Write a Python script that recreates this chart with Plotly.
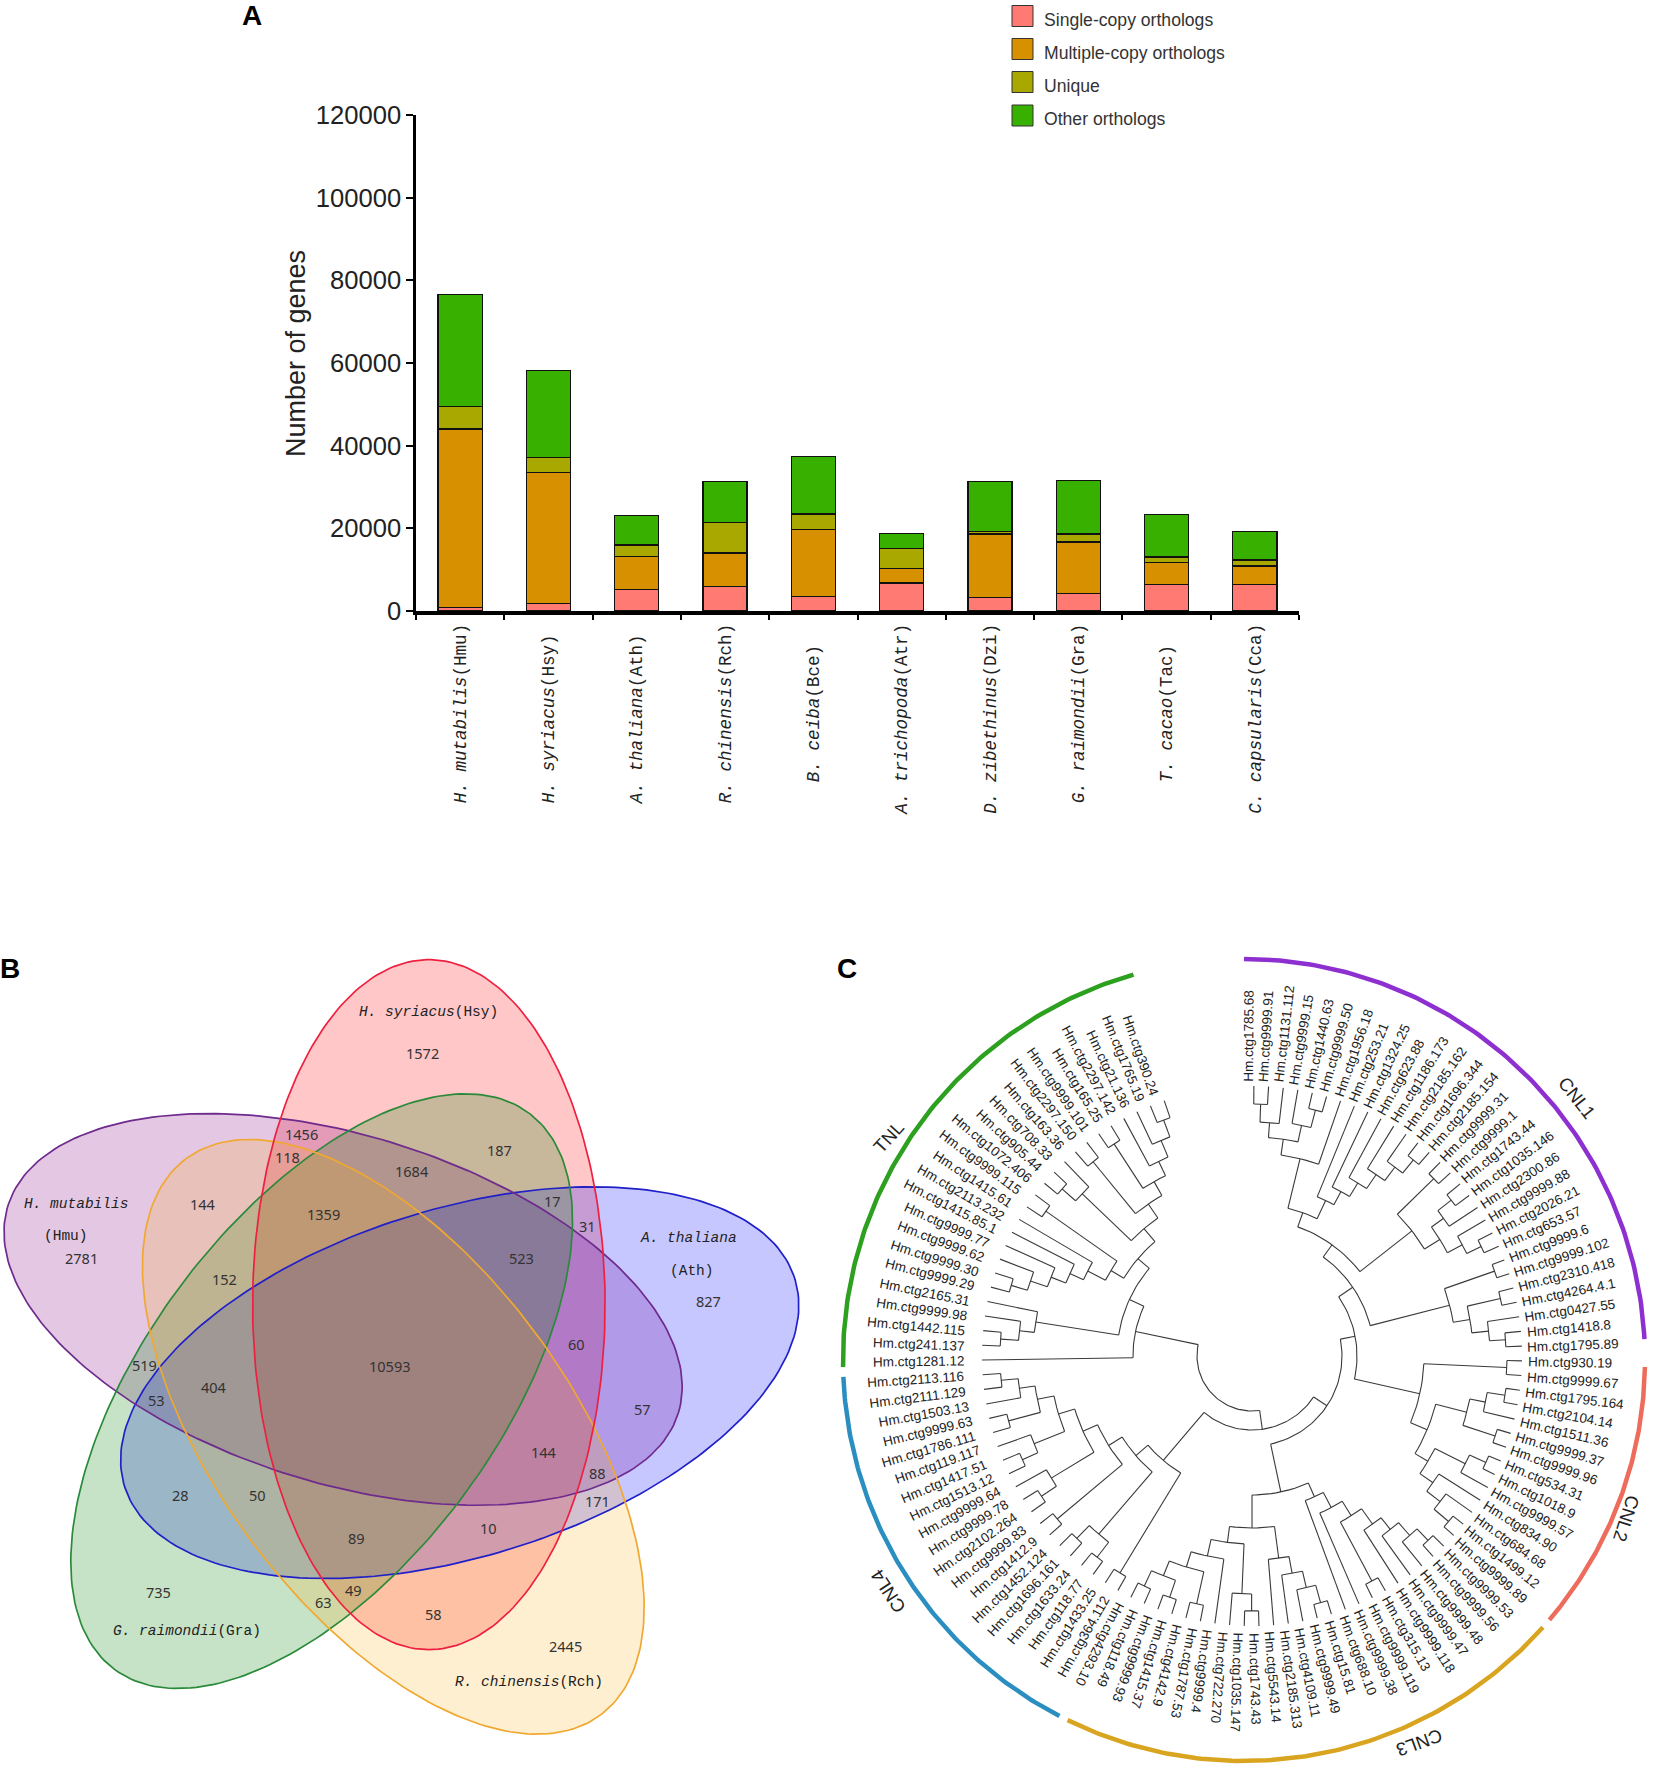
import math
import numpy as np
import plotly.graph_objects as go

# ---------- Panel A data ----------
species = ["H. mutabilis", "H. syriacus", "A. thaliana", "R. chinensis", "B. ceiba",
           "A. trichopoda", "D. zibethinus", "G. raimondii", "T. cacao", "C. capsularis"]
abbr = ["Hmu", "Hsy", "Ath", "Rch", "Bce", "Atr", "Dzi", "Gra", "Tac", "Cca"]
single_copy = [800, 1850, 5250, 5900, 3550, 6800, 3300, 4200, 6450, 6450]
multi_copy = [43200, 31650, 8000, 8150, 16250, 3450, 15350, 12500, 5250, 4450]
unique = [5400, 3650, 2750, 7350, 3700, 4850, 550, 1950, 1400, 1450]
other = [27100, 21000, 7100, 10000, 13900, 3700, 12200, 12850, 10300, 6850]
series_names = ["Single-copy orthologs", "Multiple-copy orthologs", "Unique", "Other orthologs"]
series_colors = ["#FF7A72", "#D69000", "#A8A800", "#38B000"]
y_ticks = [0, 20000, 40000, 60000, 80000, 100000, 120000]

# ---------- Panel B data ----------
venn_numbers = [1572, 1456, 118, 187, 1684, 144, 1359, 17, 31, 2781, 152, 523, 827, 60, 10593, 519,
                53, 404, 57, 144, 88, 171, 28, 50, 10, 89, 49, 63, 735, 58, 2445]
venn_number_pos = [(807, 212), (577, 365), (550, 409), (955, 396), (787, 436), (387, 497), (619, 517),
                   (1056, 491), (1123, 538), (155, 600), (429, 639), (997, 599), (1354, 680), (1102, 762),
                   (745, 802), (277, 801), (300, 866), (408, 842), (1228, 883), (1039, 964), (1143, 1005),
                   (1143, 1056), (345, 1045), (492, 1045), (934, 1107), (681, 1127), (675, 1224), (618, 1248),
                   (303, 1228), (829, 1270), (1082, 1330)]
venn_names = ["<i>H. syriacus</i>(Hsy)", "<i>H. mutabilis</i>", "(Hmu)", "<i>A. thaliana</i>", "(Ath)",
              "<i>G. raimondii</i>(Gra)", "<i>R. chinensis</i>(Rch)"]
venn_name_pos = [(820, 136), (146, 498), (127, 558), (1316, 562), (1324, 623), (358, 1302), (1012, 1398)]
# ellipse geometry: centre, semi-axes, tilt in degrees (crop coordinates of the panel)
# fill order: red, purple, blue, green, orange
ell_cx = [820, 656, 879, 615, 752]
ell_cy = [687, 696, 834, 850, 936]
ell_a = [650, 670, 670, 657, 657]
ell_b = [337, 328, 328, 335, 335]
ell_tilt = [90, 16.8, -16.8, -52.6, 52.6]
ell_line = ["#EE2040", "#6E2A8C", "#2020C8", "#2A8A3A", "#F0A830"]
ell_fill = ["rgba(255,0,0,0.22)", "rgba(128,0,128,0.22)", "rgba(0,0,255,0.22)",
            "rgba(0,128,0,0.22)", "rgba(255,165,0,0.18)"]
line_order = [2, 1, 3, 4, 0]

# ---------- Panel C data ----------
leaf_ids = ["1785.68", "9999.91", "1131.112", "9999.15", "1440.63", "9999.50", "1956.18", "253.21", "1324.25",
            "623.88", "1186.173", "2185.162", "1696.344", "2185.154", "9999.31", "9999.1", "1743.44", "1035.146",
            "2300.86", "9999.88", "2026.21", "653.57", "9999.6", "9999.102", "2310.418", "4264.4.1", "0427.55",
            "1418.8", "1795.89", "930.19", "9999.67", "1795.164", "2104.14", "1511.36", "9999.37", "9999.96",
            "534.31", "1018.9", "9999.57", "834.90", "684.68", "1499.12", "9999.89", "9999.53", "9999.56",
            "9999.48", "9999.47", "9999.118", "315.13", "9999.119", "9999.38", "688.10", "15.81", "9999.49",
            "4109.11", "2185.313", "5543.14", "1743.43", "1035.147", "722.270", "9999.4", "1787.53", "4142.9",
            "1415.37", "9999.93", "118.49", "4293.10", "364.112", "1433.25", "118.77", "1633.24", "1696.161",
            "1452.124", "1412.9", "9999.83", "2102.264", "9999.78", "9999.64", "1513.12", "1417.51", "119.117",
            "1786.111", "9999.63", "1503.13", "2111.129", "2113.116", "1281.12", "241.137", "1442.115", "9999.98",
            "2165.31", "9999.29", "9999.30", "9999.62", "9999.77", "1415.85.1", "2113.232", "1415.61", "9999.115",
            "1072.406", "905.44", "708.33", "163.36", "2297.150", "9999.101", "165.25", "2297.142", "21.136",
            "1765.19", "390.24"]
# nested tree: [node radius, child, child ...]; an int child is a leaf index
CNL1_a = [219, [234, [252, 0, 1], 2], [236, 3, [254, 4, 5]]]
CNL1_b = [152, [203, CNL1_a, 6],
          [172, 7, [187, 8, [203, 9, [220, 10, [237, 11, [254, 12, 13]]]]]]]
CNL1_c = [203, [254, 14, 15],
          [221, [236, [253, 16, 17], 18], [238, 19, [254, 20, 21]]]]
CNL1_d = [204, [257, 22, 23], [221, [255, 24, 25], [238, 26, [254, 27, 28]]]]
CNL2 = [172, [255, 29, 30],
        [190, [222, [238, [256, 31, 32], 33], [256, 34, 35]],
         [205, [239, [257, 36, 37], 38],
          [221, 39, [238, 40, [257, 41, 42]]]]]]
CNL3 = [139,
        [154, [171, [188, [207, [222, [239, [255, 43, 44], 45], 46], 47], [255, 48, 49]], 50], 51],
        [172,
         [204, [221, [238, [256, 52, 53], 54], 55], 56],
         [188, [238, [255, 57, 58], 59],
          [205, 60, [221, [254, 61, 62], [237, [255, 63, 64], [254, 65, 66]]]]]]]
CNL4 = [137, [254, 67, 68],
        [153, [235, [254, 69, 70], [253, 71, 72]],
         [169, [254, 73, 74],
          [185, [235, [253, 75, 76], 77],
           [202, [235, [252, 78, 79], 80],
            [219, [252, 81, 82], [235, 83, [252, 84, 85]]]]]]]]
TNL = [119, 86,
       [135,
        [219, [234, [252, 87, 88], 89], 90],
        [150,
         [165, [185, [200, [216, [234, [251, 91, 92], 93], 94], 95], 96], [252, 97, 98]],
         [167, [235, [253, 99, 100], 101],
          [184, [251, 102, 103],
           [200, [253, 104, 105],
            [216, 106, [234, 107, [252, 108, 109]]]]]]]]]
TREE = [55,
        [74,
         [90,
          [105, [122, [137, CNL1_b, CNL1_c], CNL1_d], CNL2],
          CNL3],
         CNL4],
        TNL]
clade_names = ["CNL1", "CNL2", "CNL3", "CNL4", "TNL"]
clade_start = [0, 91, 131.8, 207.4, 269]
clade_end = [87, 130.4, 206.1, 267.6, 344]
clade_colors = ["#8E2FD0", "#EE6C5C", "#D9A520", "#2A8FC0", "#2EA020"]
clade_label_pos = [(1577, 1097), (1627, 1518), (1420, 1743), (888, 1592), (888, 1137)]
clade_label_angle = [52, 108, 160, 237, -48]

# ---------- layout constants ----------
W, H = 1655, 1772
X0, X1, Y0, Y1 = 416, 1299, 611, 115
fig = go.Figure()
annots = []
shapes = []


def note(text, x, y, size, family="Liberation Sans", color="#222222", angle=0, xanchor="center", bold=False):
    annots.append(dict(text=f"<b>{text}</b>" if bold else text, x=x, y=y, xref="x2", yref="y2", showarrow=False,
                       xanchor=xanchor, yanchor="middle", textangle=angle,
                       font=dict(size=size, family=family, color=color), borderpad=0, borderwidth=0))


# ---------- Panel A ----------
NBSP = "\u00a0"
plain = [f"{s}({a})" for s, a in zip(species, abbr)]
longest = max(len(p) for p in plain)
categories = [f"<i>{s}</i>({a})" + NBSP * ((longest - len(p)) // 2) for s, a, p in zip(species, abbr, plain)]
for name, vals, col in zip(series_names, [single_copy, multi_copy, unique, other], series_colors):
    fig.add_trace(go.Bar(x=categories, y=vals, name=name, marker=dict(color=col, line=dict(color="#111", width=1.3)),
                         width=0.5, showlegend=False, xaxis="x", yaxis="y"))

swatch_y = [16, 49, 82, 115.5]
text_y = [20, 53, 86, 119]
for name, col, sy, ty in zip(series_names, series_colors, swatch_y, text_y):
    shapes.append(dict(type="rect", xref="x2", yref="y2", x0=1012, x1=1033, y0=sy - 10.5, y1=sy + 10.5,
                       fillcolor=col, line=dict(color="#333", width=1)))
    note(name, 1044, ty, 17.6, color="#333333", xanchor="left")

note("Number of genes", 296, 354, 27, angle=-90)
note("A", 252, 15, 28, bold=True, color="#000000")
note("B", 10, 968, 28, bold=True, color="#000000")
note("C", 847, 968, 28, bold=True, color="#000000")

# ---------- Panel B ----------
SX, SY, OY = 1.912, 1.884, 940
outlines = []
for cx, cy, a, b, tilt, fc in zip(ell_cx, ell_cy, ell_a, ell_b, ell_tilt, ell_fill):
    t = np.linspace(0, 2 * np.pi, 240)
    phi = math.radians(tilt)
    ex = (cx + a * np.cos(t) * math.cos(phi) - b * np.sin(t) * math.sin(phi)) / SX
    ey = OY + (cy + a * np.cos(t) * math.sin(phi) + b * np.sin(t) * math.cos(phi)) / SY
    outlines.append((ex, ey))
    fig.add_trace(go.Scatter(x=ex, y=ey, mode="lines", fill="toself", fillcolor=fc,
                             line=dict(width=0), hoverinfo="skip", showlegend=False, xaxis="x2", yaxis="y2"))
for k in line_order:
    fig.add_trace(go.Scatter(x=outlines[k][0], y=outlines[k][1], mode="lines",
                             line=dict(color=ell_line[k], width=1.7), hoverinfo="skip", showlegend=False,
                             xaxis="x2", yaxis="y2"))
for v, (x, y) in zip(venn_numbers, venn_number_pos):
    note(str(v), x / SX, OY + y / SY, 14.5, family="Noto Sans", color="#333333")
for txt, (x, y) in zip(venn_names, venn_name_pos):
    note(txt, x / SX, OY + y / SY, 14.5, family="Liberation Mono", color="#222222")

# ---------- Panel C ----------
CX, CY = 1252, 1356
TIP_R = 270
ANG0, ANG_STEP = 0.4, 3.125
FLIP = 207.5
LEAF_SIZE = 13.5
LABEL_CX, LABEL_CY = 1246.2, 1357
LABEL_RX, LABEL_RY = 281.7, 276


def polar(r, deg):
    return CX + r * math.sin(math.radians(deg)), CY - r * math.cos(math.radians(deg))


lx, ly = [], []


def add_line(pts):
    for p in pts:
        lx.append(p[0])
        ly.append(p[1])
    lx.append(None)
    ly.append(None)


def draw(node):
    """returns (angle, radius) of a node and draws its arc and its children's stems"""
    if isinstance(node, int):
        return ANG0 + node * ANG_STEP, TIP_R
    r = node[0]
    kids = [draw(k) for k in node[1:]]
    a0, a1 = kids[0][0], kids[-1][0]
    n = max(2, int(abs(a1 - a0) / 2) + 2)
    add_line([polar(r, a0 + (a1 - a0) * i / (n - 1)) for i in range(n)])
    for ang, kr in kids:
        add_line([polar(r, ang), polar(kr, ang)])
    return (a0 + a1) / 2, r


draw(TREE)
fig.add_trace(go.Scatter(x=lx, y=ly, mode="lines", line=dict(color="#3a3a3a", width=1.1), hoverinfo="skip",
                         showlegend=False, xaxis="x2", yaxis="y2", connectgaps=False))

EM = {".": 0.278}


def text_w(s, size):
    return size * sum(EM.get(c, 0.556) for c in s)


for i, lid in enumerate(leaf_ids):
    label = "Hm.ctg" + lid
    th = ANG0 + i * ANG_STEP
    w = LEAF_SIZE * 3.167 + text_w(lid, LEAF_SIZE)
    px = LABEL_CX + (LABEL_RX + w / 2) * math.sin(math.radians(th))
    py = LABEL_CY - (LABEL_RY + w / 2) * math.cos(math.radians(th))
    ang = th - 90 if th < FLIP else th - 270
    note(label, px, py, LEAF_SIZE, color="#222222", angle=ang)

for name, s, e, col, (x, y), ang in zip(clade_names, clade_start, clade_end, clade_colors, clade_label_pos,
                                        clade_label_angle):
    th = np.linspace(s, e, 120)
    ax = 1244 + 401 * np.sin(np.radians(th))
    ay = 1360 - 401 * np.cos(np.radians(th))
    fig.add_trace(go.Scatter(x=ax, y=ay, mode="lines", line=dict(color=col, width=4.5), hoverinfo="skip",
                             showlegend=False, xaxis="x2", yaxis="y2"))
    note(name, x, y, 18.5, color="#222222", angle=ang)

fig.update_layout(
    width=W, height=H, margin=dict(l=0, r=0, t=0, b=0), paper_bgcolor="white", plot_bgcolor="rgba(0,0,0,0)",
    barmode="stack", annotations=annots, shapes=shapes, showlegend=False,
    xaxis=dict(domain=[X0 / W, X1 / W], anchor="y", type="category", categoryorder="array", categoryarray=categories,
               showline=True, linecolor="#000", linewidth=3.5, ticks="outside", ticklen=5, tickwidth=2,
               tickcolor="#000", tickson="boundaries", tickangle=-90, ticklabelstandoff=2,
               tickfont=dict(family="Liberation Mono", size=17.6, color="#222"), showgrid=False, zeroline=False,
               automargin=False),
    yaxis=dict(domain=[1 - Y0 / H, 1 - Y1 / H], anchor="x", range=[0, 120000], tickvals=y_ticks,
               ticktext=[str(v) for v in y_ticks], showline=True, linecolor="#000", linewidth=2.5, ticks="outside",
               ticklen=7, tickwidth=2, tickcolor="#000", showgrid=False, zeroline=False, automargin=False,
               tickfont=dict(family="Liberation Sans", size=25.6, color="#222")),
    xaxis2=dict(domain=[0, 1], range=[0, W], visible=False, anchor="y2", fixedrange=True),
    yaxis2=dict(domain=[0, 1], range=[H, 0], visible=False, anchor="x2", fixedrange=True),
)
fig.write_html("out.html", post_script="document.body.style.margin='0';", config={"displayModeBar": False})
